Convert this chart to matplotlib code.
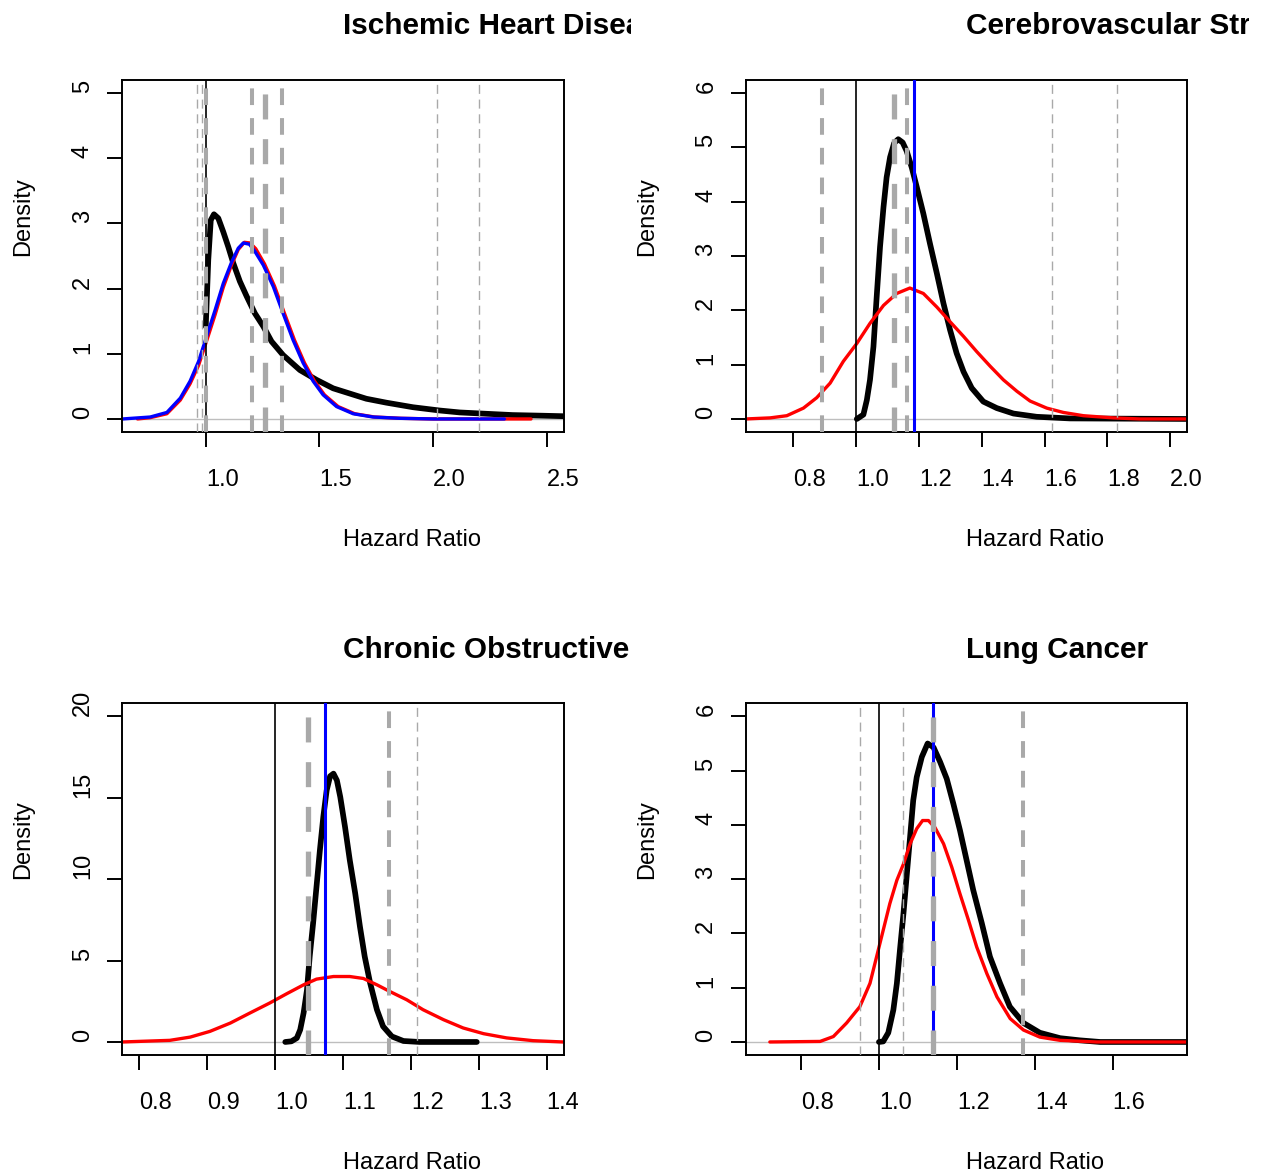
import numpy as np
import matplotlib
matplotlib.use("Agg")
from matplotlib import pyplot as plt
from matplotlib.transforms import Bbox, TransformedBbox

plt.rcParams['font.family'] = ['Liberation Sans', 'DejaVu Sans']
plt.rcParams['lines.scale_dashes'] = False

# ---- Ischemic Heart Disease
ihd_black_x = [1.000, 1.011, 1.022, 1.036, 1.055, 1.077, 1.099, 1.121, 1.150, 1.180, 1.216, 1.253, 1.289, 1.340,
               1.414, 1.487, 1.560, 1.633, 1.706, 1.794, 1.911, 2.028, 2.117, 2.232, 2.349, 2.481, 2.600]
ihd_black_y = [1.42, 2.44, 3.05, 3.14, 3.08, 2.87, 2.64, 2.39, 2.11, 1.88, 1.62, 1.42, 1.19, 0.98,
               0.75, 0.60, 0.47, 0.39, 0.31, 0.25, 0.18, 0.13, 0.10, 0.08, 0.06, 0.05, 0.04]
ihd_red_x = [0.700, 0.756, 0.829, 0.888, 0.931, 0.968, 1.004, 1.041, 1.077, 1.114, 1.143, 1.170, 1.195, 1.220,
             1.258, 1.302, 1.346, 1.390, 1.434, 1.478, 1.522, 1.582, 1.655, 1.742, 1.860, 2.000, 2.430]
ihd_red_y = [0.00, 0.02, 0.08, 0.29, 0.54, 0.82, 1.20, 1.60, 2.02, 2.37, 2.60, 2.71, 2.70, 2.61,
             2.38, 2.04, 1.62, 1.21, 0.86, 0.58, 0.37, 0.19, 0.08, 0.03, 0.01, 0.00, 0.00]
ihd_blue_x = [0.634, 0.756, 0.829, 0.888, 0.931, 0.968, 1.004, 1.041, 1.077, 1.114, 1.143, 1.165, 1.192, 1.216,
              1.253, 1.297, 1.340, 1.384, 1.428, 1.472, 1.516, 1.575, 1.648, 1.735, 1.852, 2.000, 2.313]
ihd_blue_y = [0.00, 0.03, 0.10, 0.32, 0.58, 0.88, 1.27, 1.67, 2.08, 2.41, 2.62, 2.70, 2.68, 2.57,
              2.36, 2.03, 1.62, 1.21, 0.86, 0.58, 0.37, 0.19, 0.08, 0.03, 0.01, 0.00, 0.00]
ihd_thin = [0.960, 0.982, 2.017, 2.203]
ihd_thick = [1.000, 1.202, 1.333]
ihd_mid = [1.260]
ihd_blue_v = []

# ---- Cerebrovascular Stroke
cvs_black_x = [1.002, 1.023, 1.034, 1.044, 1.055, 1.066, 1.076, 1.087, 1.097, 1.108, 1.121, 1.134, 1.148, 1.161,
               1.177, 1.193, 1.214, 1.235, 1.257, 1.278, 1.299, 1.320, 1.342, 1.368, 1.405, 1.448, 1.501, 1.575,
               1.681, 2.060]
cvs_black_y = [0.00, 0.08, 0.35, 0.72, 1.33, 2.31, 3.17, 3.90, 4.45, 4.82, 5.08, 5.15, 5.09, 4.93,
               4.63, 4.27, 3.78, 3.23, 2.68, 2.13, 1.64, 1.21, 0.87, 0.57, 0.32, 0.20, 0.10, 0.04,
               0.01, 0.00]
cvs_red_x = [0.648, 0.726, 0.779, 0.832, 0.874, 0.917, 0.959, 1.002, 1.044, 1.087, 1.129, 1.171, 1.214, 1.257,
             1.299, 1.342, 1.384, 1.427, 1.469, 1.512, 1.554, 1.607, 1.660, 1.724, 1.819, 1.904, 2.060]
cvs_red_y = [0.00, 0.02, 0.06, 0.20, 0.39, 0.66, 1.06, 1.39, 1.76, 2.09, 2.31, 2.41, 2.31, 2.06,
             1.79, 1.52, 1.24, 0.97, 0.72, 0.51, 0.33, 0.20, 0.12, 0.06, 0.02, 0.00, 0.00]
cvs_thin = [1.623, 1.830]
cvs_thick = [0.890, 1.161]
cvs_mid = [1.121]
cvs_blue_v = [1.185]

# ---- Chronic Obstructive Pulmonary Disease
copd_black_x = [1.015, 1.024, 1.032, 1.037, 1.042, 1.047, 1.051, 1.056, 1.061, 1.066, 1.071, 1.076, 1.081, 1.086,
                1.091, 1.096, 1.103, 1.110, 1.118, 1.125, 1.132, 1.140, 1.150, 1.159, 1.172, 1.189, 1.213, 1.297]
copd_black_y = [0.00, 0.04, 0.24, 0.75, 1.78, 3.20, 5.25, 7.29, 9.53, 11.78, 13.82, 15.46, 16.32, 16.48,
                16.07, 15.05, 13.21, 11.17, 9.13, 7.08, 5.25, 3.62, 1.98, 0.96, 0.34, 0.06, 0.00, 0.00]
copd_red_x = [0.775, 0.845, 0.875, 0.904, 0.934, 0.963, 0.992, 1.017, 1.042, 1.061, 1.086, 1.110, 1.130, 1.150,
              1.169, 1.194, 1.218, 1.248, 1.277, 1.307, 1.341, 1.380, 1.424]
copd_red_y = [0.00, 0.10, 0.30, 0.65, 1.16, 1.78, 2.39, 2.96, 3.51, 3.86, 4.02, 4.02, 3.90, 3.51,
              3.10, 2.59, 1.98, 1.37, 0.86, 0.51, 0.25, 0.08, 0.00]
copd_thin = [1.2085]
copd_thick = [1.168]
copd_mid = [1.0485]
copd_blue_v = [1.0735]

# ---- Lung Cancer
lung_black_x = [1.000, 1.011, 1.024, 1.037, 1.046, 1.054, 1.063, 1.071, 1.080, 1.088, 1.097, 1.110, 1.125, 1.140,
                1.157, 1.174, 1.191, 1.208, 1.225, 1.242, 1.264, 1.285, 1.311, 1.336, 1.371, 1.413, 1.465, 1.516,
                1.568, 1.793]
lung_black_y = [0.00, 0.01, 0.17, 0.59, 1.08, 1.70, 2.37, 3.04, 3.78, 4.45, 4.88, 5.25, 5.50, 5.43,
                5.16, 4.85, 4.39, 3.90, 3.35, 2.80, 2.19, 1.57, 1.08, 0.65, 0.35, 0.17, 0.07, 0.03,
                0.00, 0.00]
lung_red_x = [0.720, 0.849, 0.883, 0.917, 0.951, 0.977, 0.994, 1.011, 1.028, 1.046, 1.063, 1.080, 1.097, 1.112,
              1.127, 1.144, 1.166, 1.187, 1.208, 1.230, 1.251, 1.277, 1.303, 1.337, 1.371, 1.413, 1.465, 1.559,
              1.790]
lung_red_y = [0.00, 0.01, 0.10, 0.35, 0.65, 1.08, 1.57, 2.06, 2.55, 2.98, 3.28, 3.65, 3.93, 4.08,
              4.08, 3.95, 3.65, 3.22, 2.73, 2.24, 1.75, 1.26, 0.83, 0.43, 0.22, 0.09, 0.03, 0.00,
              0.00]
lung_thin = [0.9515, 1.062]
lung_thick = [1.371]
lung_mid = [1.138]
lung_blue_v = [1.138]

titles = ["Ischemic Heart Disease", "Cerebrovascular Stroke",
          "Chronic Obstructive Pulmonary Disease", "Lung Cancer"]

W, H = 1261, 1175
fig = plt.figure(figsize=(W / 100, H / 100), dpi=100)

GRAY = '#a9a9a9'


def panel(l, t, r, b, title, xlim, ylim, xticks, yticks, curves, thin, thick, mid, bluev, clipx):
    ax = fig.add_axes([l / W, 1 - b / H, (r - l) / W, (b - t) / H])
    ax.set_xlim(xlim)
    ax.set_ylim(ylim)
    ax.axhline(0, color='#bebebe', lw=1.0, zorder=1)
    for x, y, c, lw in curves:
        ax.plot(x, y, color=c, lw=lw, solid_capstyle='round', solid_joinstyle='round', zorder=2)
    ax.plot([1.0, 1.0], ylim, color='black', lw=1.2, zorder=3)
    for v in bluev:
        ax.plot([v, v], ylim, color='blue', lw=2.2, zorder=3)
    for v in thin:
        ax.plot([v, v], ylim, color=GRAY, lw=1.0, ls=(0, (6.5, 4.1)), zorder=4)
    for v in thick:
        ax.plot([v, v], ylim, color=GRAY, lw=2.9, ls=(0, (12, 9.4)), zorder=4)
    for v in mid:
        ax.plot([v, v], ylim, color=GRAY, lw=3.8, ls=(0, (18, 14.2)), zorder=4)

    for s in ax.spines.values():
        s.set_linewidth(1.4)
    ax.tick_params(length=10.8, width=1.4, labelsize=17, direction='out')
    ax.tick_params(axis='x', pad=28.4)
    ax.tick_params(axis='y', pad=13.2)
    ax.set_xticks(xticks)
    ax.set_xticklabels([f"{v:.1f}" for v in xticks], ha='left', va='baseline')
    ax.set_yticks(yticks)
    ax.set_yticklabels([str(v) for v in yticks], rotation=90, rotation_mode='anchor',
                       ha='left', va='baseline')

    # titles and axis labels start at the plot centre, titles clipped at the panel edge
    cx = (l + r) / 2
    tt = fig.text(cx / W, 1 - (t - 45.7) / H, title, fontsize=21.4, fontweight='bold',
                  ha='left', va='baseline')
    tt.set_clip_box(TransformedBbox(Bbox([[clipx[0] / W, 0], [clipx[1] / W, 1]]), fig.transFigure))
    tt.set_clip_on(True)
    fig.text(cx / W, 1 - (b + 114.4) / H, "Hazard Ratio", fontsize=17, ha='left', va='baseline')
    fig.text((l - 93) / W, 1 - ((t + b) / 2) / H, "Density", fontsize=17, rotation=90,
             rotation_mode='anchor', ha='left', va='baseline')
    return ax


panel(122.3, 80, 564, 432, titles[0], (0.633, 2.575), (-0.2, 5.2),
      [1.0, 1.5, 2.0, 2.5], [0, 1, 2, 3, 4, 5],
      [(ihd_black_x, ihd_black_y, 'black', 4.1), (ihd_red_x, ihd_red_y, 'red', 2.4),
       (ihd_blue_x, ihd_blue_y, 'blue', 2.4)],
      ihd_thin, ihd_thick, ihd_mid, ihd_blue_v, (0, 630.5))

panel(745.7, 80, 1186.7, 432, titles[1], (0.648, 2.053), (-0.24, 6.24),
      [0.8, 1.0, 1.2, 1.4, 1.6, 1.8, 2.0], [0, 1, 2, 3, 4, 5, 6],
      [(cvs_black_x, cvs_black_y, 'black', 4.1), (cvs_red_x, cvs_red_y, 'red', 2.4)],
      cvs_thin, cvs_thick, cvs_mid, cvs_blue_v, (630.5, 1249))

panel(122.3, 703.3, 564, 1055, titles[2], (0.775, 1.4255), (-0.8, 20.8),
      [0.8, 0.9, 1.0, 1.1, 1.2, 1.3, 1.4], [0, 5, 10, 15, 20],
      [(copd_black_x, copd_black_y, 'black', 4.1), (copd_red_x, copd_red_y, 'red', 2.4)],
      copd_thin, copd_thick, copd_mid, copd_blue_v, (0, 630.5))

panel(745.7, 703.3, 1186.7, 1055, titles[3], (0.658, 1.790), (-0.24, 6.24),
      [0.8, 1.0, 1.2, 1.4, 1.6], [0, 1, 2, 3, 4, 5, 6],
      [(lung_black_x, lung_black_y, 'black', 4.1), (lung_red_x, lung_red_y, 'red', 2.4)],
      lung_thin, lung_thick, lung_mid, lung_blue_v, (630.5, 1249))

fig.savefig("out.png", dpi=100)
